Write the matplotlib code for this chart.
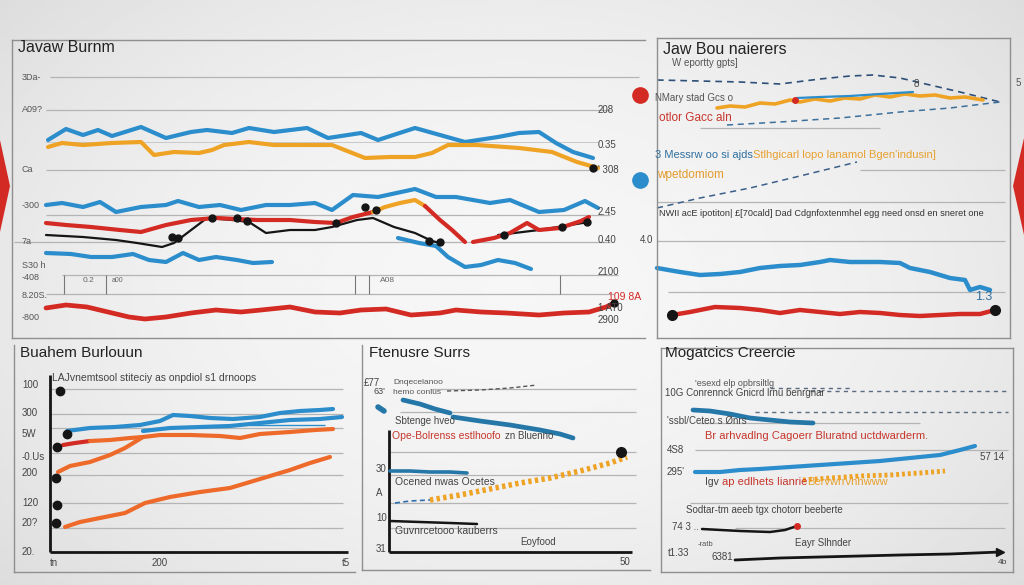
import numpy as np
import matplotlib.pyplot as plt
from matplotlib.patches import Polygon

plt.rcParams['font.family'] = ['Liberation Sans', 'DejaVu Sans']

W, H = 1024, 585
BLUE = '#2b8dcb'
ORANGE = '#efa325'
RORANGE = '#ee6a2a'
RED = '#d42a24'
BLACK = '#151515'
GRID = '#b4b4b4'
EDGE = '#8f8f8f'
TXT = '#3c3c3c'

# ---------------- panel 1 : "Javaw Burnm" ----------------
p1_blue_top_x = [48, 66, 83, 98, 112, 141, 166, 191, 207, 232, 249, 274, 307, 328, 361, 378, 415, 440, 465, 498, 519, 539, 556, 573, 593]
p1_blue_top = [198, 209, 203, 208, 202, 211, 200, 206, 208, 205, 210, 206, 210, 200, 205, 198, 210, 203, 196, 201, 205, 206, 195, 186, 180]
p1_orange_x = [48, 62, 83, 112, 141, 154, 174, 199, 212, 224, 249, 274, 307, 332, 365, 390, 415, 432, 448, 477, 519, 552, 577, 598]
p1_orange = [191, 195, 193, 195, 196, 183, 186, 185, 188, 193, 196, 193, 193, 193, 180, 181, 181, 185, 193, 193, 190, 186, 176, 170]
p1_blue_mid_x = [46, 62, 83, 100, 116, 141, 166, 178, 199, 220, 241, 266, 290, 315, 332, 353, 378, 415, 436, 456, 490, 510, 539, 564, 585, 598]
p1_blue_mid = [133, 135, 131, 136, 126, 131, 133, 137, 131, 133, 128, 133, 133, 135, 128, 143, 141, 149, 141, 141, 135, 138, 126, 128, 137, 130]
p1_red_a_x = [46, 66, 91, 120, 141, 166, 191, 216, 237, 257, 290, 315, 336, 353, 373]
p1_red_a = [115, 113, 111, 108, 106, 113, 118, 120, 119, 118, 118, 116, 115, 121, 126]
p1_hump_x = [373, 385, 400, 415, 425]
p1_hump = [126, 131, 135, 138, 132]
p1_red_b_x = [425, 440, 452, 465]
p1_red_b = [132, 118, 108, 96]
p1_red_c_x = [473, 494, 510, 527, 539, 560, 581, 589]
p1_red_c = [96, 100, 105, 115, 108, 110, 117, 121]
p1_black_x = [46, 83, 116, 137, 162, 174, 207, 232, 249, 266, 290, 315, 332, 357, 373, 394, 415, 432, 440]
p1_black = [103, 101, 98, 95, 91, 95, 120, 118, 116, 105, 108, 108, 111, 118, 120, 111, 105, 97, 95]
p1_black2_x = [498, 539, 589]
p1_black2 = [103, 108, 116]
p1_dots_x = [212, 237, 247, 336, 365, 376, 429, 440, 172, 178, 504, 562, 587]
p1_dots = [120, 120, 117, 115, 131, 128, 97, 96, 101, 100, 103, 111, 116]
p1_blue_low_a_x = [46, 71, 91, 112, 133, 149, 166, 183, 199, 216, 237, 253, 272]
p1_blue_low_a = [85, 84, 81, 81, 84, 78, 76, 85, 78, 81, 78, 75, 76]
p1_blue_low_b_x = [398, 419, 436, 448, 465, 481, 498, 515, 531]
p1_blue_low_b = [100, 95, 92, 81, 71, 73, 78, 75, 69]
p1_red_low_x = [46, 66, 87, 108, 129, 145, 166, 191, 216, 241, 261, 290, 315, 340, 361, 386, 411, 440, 456, 481, 506, 539, 564, 589, 606, 614]
p1_red_low = [30, 33, 31, 26, 21, 19, 21, 25, 28, 26, 28, 31, 26, 25, 28, 29, 23, 25, 28, 26, 25, 23, 25, 26, 31, 35]
p1_grid = [261, 228, 168, 123, 96, 63, 44]
p1_grid_from = [50, 46, 46, 46, 14, 62, 46]
p1_grid_to = [639, 610, 598, 610, 610, 618, 614]
p1_left_labels = ['3Da-', 'A09?', 'Ca', '-300', '7a', 'S30 h', '-408', '8.20S.', '-800']
p1_left_vals = [261, 228, 168, 133, 96, 72, 61, 43, 20]
p1_right_labels = ['208', '0.35', "' 308", '2.45', '0.40', '2100', '1 AT0', '2900']
p1_right_vals = [228, 193, 168, 126, 98, 66, 30, 18]

# ---------------- panel 2 : "Jaw Bou naierers" ----------------
p2_dash_top_x = [657, 700, 740, 780, 820, 850, 873, 900, 930, 960, 1000]
p2_dash_top = [258, 257, 256, 254, 259, 262, 263, 260, 253, 246, 236]
p2_orange_x = [717, 730, 745, 760, 775, 790, 800, 815, 830, 845, 860, 875, 890, 905, 920, 935, 950, 965, 983]
p2_orange = [230, 232, 231, 235, 234, 238, 236, 239, 237, 240, 239, 243, 241, 244, 242, 243, 240, 241, 238]
p2_blue_short_x = [797, 820, 850, 880, 913]
p2_blue_short = [240, 241, 242, 244, 246]
p2_dash2_x = [727, 780, 840, 900, 950, 1000]
p2_dash2 = [213, 216, 220, 226, 230, 236]
p2_dash3_x = [657, 700, 750, 800, 857]
p2_dash3 = [130, 140, 150, 162, 176]
p2_blue_x = [657, 680, 700, 720, 740, 760, 780, 800, 820, 830, 850, 880, 900, 910, 930, 950, 965, 970, 980, 990]
p2_blue = [70, 66, 63, 64, 66, 70, 72, 73, 76, 78, 76, 76, 75, 70, 66, 60, 58, 48, 51, 48]
p2_red_x = [672, 690, 715, 740, 760, 780, 800, 820, 840, 860, 880, 900, 920, 940, 960, 980, 995]
p2_red = [23, 26, 31, 30, 28, 25, 28, 26, 24, 26, 25, 23, 22, 23, 24, 24, 28]
p2_grid = [168, 136, 97, 46, 210]
p2_grid_from = [860, 657, 657, 668, 700]
p2_grid_to = [1005, 1005, 1005, 1005, 880]

# ---------------- panel 3 : "Buahem Burlouun" ----------------
p3_blue1_x = [67, 90, 115, 140, 160, 173, 190, 210, 233, 260, 280, 300, 320, 333]
p3_blue1 = [144, 147, 148, 150, 154, 160, 159, 157, 156, 158, 162, 164, 165, 166]
p3_blue2_x = [143, 170, 200, 230, 260, 290, 320, 342]
p3_blue2 = [144, 147, 148, 149, 152, 155, 156, 158]
p3_red_x = [63, 75, 90]
p3_red = [130, 132, 134]
p3_orange_join_x = [90, 110, 130, 143]
p3_orange_join = [134, 135, 137, 138]
p3_orange1_x = [58, 70, 90, 110, 125, 143, 160, 190, 220, 240, 260, 290, 315, 333]
p3_orange1 = [103, 109, 113, 120, 127, 138, 140, 140, 139, 137, 141, 143, 145, 146]
p3_orange2_x = [65, 80, 100, 125, 145, 170, 200, 230, 250, 270, 290, 310, 330]
p3_orange2 = [48, 53, 57, 62, 72, 78, 83, 87, 93, 99, 105, 112, 118]
p3_dots_x = [60, 67, 57, 56, 57, 56]
p3_dots = [184, 141, 128, 97, 70, 52]
p3_grid = [186, 161, 147, 122, 100, 72, 47]
p3_ylabels = ['100', '300', '5W', '-0.Us', '200', '120', '20?', '20.']
p3_yvals = [190, 162, 141, 118, 102, 72, 52, 23]
p3_xlabels = ['tn', '200', 't5']
p3_xvals = [50, 152, 342]

# ---------------- panel 4 : "Ftenusre Surrs" ----------------
p4_blue_a_x = [403, 420, 435, 450]
p4_blue_a = [175, 171, 166, 162]
p4_blue_b_x = [453, 480, 510, 540, 560, 573]
p4_blue_b = [158, 154, 150, 145, 141, 137]
p4_blue_tiny_x = [378, 384]
p4_blue_tiny = [168, 164]
p4_blue_flat_x = [390, 410, 430, 450, 467]
p4_blue_flat = [104, 104, 103, 103, 102]
p4_orange_x = [430, 460, 490, 520, 550, 580, 610, 627]
p4_orange = [75, 80, 86, 92, 97, 104, 112, 118]
p4_blue_dash_x = [395, 410, 430]
p4_blue_dash = [72, 74, 75]
p4_black_x = [390, 420, 450, 477]
p4_black = [54, 53, 52, 51]
p4_dash_top_x = [447, 480, 510, 537]
p4_dash_top = [184, 185, 187, 190]
p4_grid = [186, 163, 123, 100, 72, 47]
p4_grid_from = [430, 400, 390, 390, 390, 390]

# ---------------- panel 5 : "Mogatcics Creercie" ----------------
p5_blue_top_x = [693, 710, 730, 750, 770, 790, 813]
p5_blue_top = [165, 164, 161, 157, 155, 153, 152]
p5_blue_rise_x = [695, 720, 740, 760, 790, 820, 850, 880, 910, 940, 960, 975]
p5_blue_rise = [103, 103, 105, 106, 108, 110, 112, 114, 117, 120, 125, 129]
p5_orange_x = [803, 830, 860, 890, 920, 945]
p5_orange = [95, 97, 99, 100, 102, 104]
p5_black1_x = [702, 740, 770, 785, 797]
p5_black1 = [46, 44, 43, 45, 49]
p5_black2_x = [735, 780, 820, 860, 900, 950, 1000]
p5_black2 = [15, 17, 18, 19, 20, 21, 23]
p5_dash_lines = [184, 163, 187]
p5_dash_from = [810, 755, 770]
p5_dash_to = [1010, 1008, 850]
p5_grid = [152, 125, 72, 47]
p5_grid_from = [700, 695, 690, 735]
p5_grid_to = [920, 1008, 1008, 1005]

fig = plt.figure(figsize=(W / 100, H / 100), dpi=100)

# soft grey vignette background
bg = fig.add_axes([0, 0, 1, 1])
yy, xx = np.mgrid[0:1:200j, 0:1:300j]
r = np.hypot((xx - 0.5) / 0.7, (yy - 0.5) / 0.8)
bg.imshow(0.965 - 0.11 * r ** 2, cmap='gray', vmin=0, vmax=1,
          extent=(0, 1, 0, 1), aspect='auto')
bg.set_xlim(0, 1)
bg.set_ylim(0, 1)
bg.axis('off')
bg.add_patch(Polygon([(0, 1 - 140 / H), (10 / W, 1 - 186 / H), (0, 1 - 232 / H)],
                     color=RED, lw=0))
bg.add_patch(Polygon([(1, 1 - 138 / H), (1013 / W, 1 - 186 / H), (1, 1 - 235 / H)],
                     color=RED, lw=0))


def panel(x0, y0, x1, y1, yb, spines):
    ax = fig.add_axes([x0 / W, 1 - y1 / H, (x1 - x0) / W, (y1 - y0) / H])
    ax.set_xlim(x0, x1)
    ax.set_ylim(yb - y1, yb - y0)
    ax.patch.set_visible(False)
    ax.set_xticks([])
    ax.set_yticks([])
    for name, sp in ax.spines.items():
        sp.set_visible(name[0] in spines)
        sp.set_color(EDGE)
        sp.set_linewidth(1)
    return ax


def line(ax, x, y, color, lw=3.0, **kw):
    ax.plot(x, y, color=color, lw=lw, solid_capstyle='round',
            solid_joinstyle='round', clip_on=False, **kw)


def txt(ax, x, y, s, size=7, color=TXT, **kw):
    ax.text(x, y, s, fontsize=size, color=color, va='center', ha='left',
            clip_on=False, **kw)


# ---- panel 1
ax1 = panel(12, 40, 645, 338, 338, 'tlb')
ax1.hlines(p1_grid, p1_grid_from, p1_grid_to, color=GRID, lw=0.9)
ax1.hlines([196], [46], [598], color='#c8c8c8', lw=0.7)
ax1.vlines([64, 106, 355, 369, 560], 44, 63, color='#777777', lw=0.8)
line(ax1, p1_black_x, p1_black, BLACK, lw=1.6)
line(ax1, p1_black2_x, p1_black2, BLACK, lw=1.6)
line(ax1, p1_blue_top_x, p1_blue_top, BLUE)
line(ax1, p1_orange_x, p1_orange, ORANGE)
line(ax1, p1_blue_mid_x, p1_blue_mid, BLUE)
line(ax1, p1_red_a_x, p1_red_a, RED)
line(ax1, p1_hump_x, p1_hump, ORANGE)
line(ax1, p1_red_b_x, p1_red_b, RED)
line(ax1, p1_red_c_x, p1_red_c, RED)
line(ax1, p1_blue_low_a_x, p1_blue_low_a, BLUE)
line(ax1, p1_blue_low_b_x, p1_blue_low_b, BLUE)
line(ax1, p1_red_low_x, p1_red_low, RED, lw=3.4)
ax1.plot(p1_dots_x, p1_dots, 'o', color=BLACK, ms=5, clip_on=False)
ax1.plot([593, 614], [170, 35], 'o', color=BLACK, ms=5, clip_on=False)
ax1.plot([640], [243], 'o', color=RED, ms=11, clip_on=False)
ax1.plot([640], [158], 'o', color=BLUE, ms=11, clip_on=False)
txt(ax1, 18, 290, 'Javaw Burnm', size=11.5, color='#222222')
for s, v in zip(p1_left_labels, p1_left_vals):
    txt(ax1, 22, v, s, size=6.5, color='#555555')
for s, v in zip(p1_right_labels, p1_right_vals):
    txt(ax1, 598, v, s, size=7, color='#444444')
txt(ax1, 608, 41, '109 8A', size=7.5, color=RED)
txt(ax1, 640, 98, '4.0', size=7, color='#444444')
txt(ax1, 83, 57, '0.2', size=6, color='#666666')
txt(ax1, 112, 57, 'a00', size=5, color='#666666')
txt(ax1, 380, 57, 'A08', size=6, color='#666666')

# ---- panel 2
ax2 = panel(657, 38, 1010, 338, 338, 'tlbr')
ax2.hlines(p2_grid, p2_grid_from, p2_grid_to, color=GRID, lw=0.9)
line(ax2, p2_dash_top_x, p2_dash_top, '#2d4f78', lw=1.2, ls=(0, (4, 3)))
line(ax2, p2_dash2_x, p2_dash2, '#3b6f9c', lw=1.1, ls=(0, (4, 3)))
line(ax2, p2_dash3_x, p2_dash3, '#3b5f88', lw=1.1, ls=(0, (4, 3)))
line(ax2, p2_orange_x, p2_orange, ORANGE, lw=2.6)
line(ax2, p2_blue_short_x, p2_blue_short, BLUE, lw=1.6)
ax2.plot([795], [238], 'o', color=RED, ms=4, clip_on=False)
line(ax2, p2_blue_x, p2_blue, BLUE, lw=3.2)
line(ax2, p2_red_x, p2_red, RED, lw=3.2)
ax2.plot([p2_red_x[0], p2_red_x[-1]], [p2_red[0], p2_red[-1]], 'o',
         color=BLACK, ms=7, clip_on=False)
txt(ax2, 663, 288, 'Jaw Bou naierers', size=11.5, color='#222222')
txt(ax2, 672, 275, 'W eportty gpts]', size=7, color='#555555')
txt(ax2, 655, 240, 'NMary stad Gcs o', size=7, color='#555555')
txt(ax2, 659, 220, 'otlor Gacc aln', size=8.5, color='#c7352b')
txt(ax2, 655, 183, '3 Messrw oo si ajds', size=8, color='#2f6f9f')
txt(ax2, 753, 183, "Stlhgicarl lopo lanamol Bgen'indusin]", size=8, color='#e8a02e')
txt(ax2, 657, 163, 'wpetdomiom', size=8.5, color='#e39a2a')
txt(ax2, 659, 125, 'NWII acE ipotiton| £[70cald] Dad Cdgnfoxtenmhel egg need onsd en sneret one',
    size=6.6, color='#333333')
txt(ax2, 914, 254, '8', size=7, color='#444444')
txt(ax2, 975, 41, '1.3', size=9, color='#2f6f9f')
txt(ax2, 1016, 255, '5', size=7, color='#555555')

# ---- panel 3
ax3 = panel(14, 345, 355, 572, 575, 'lb')
ax3.hlines(p3_grid, 50, 343, color=GRID, lw=0.9)
ax3.vlines([50], 23, 200, color=BLACK, lw=2)
ax3.hlines([23], 50, 348, color=BLACK, lw=2)
line(ax3, p3_blue1_x, p3_blue1, BLUE)
line(ax3, p3_blue2_x, p3_blue2, BLUE)
ax3.hlines([150], 250, 325, color=BLUE, lw=1)
line(ax3, p3_red_x, p3_red, RED)
line(ax3, p3_orange_join_x, p3_orange_join, RORANGE)
line(ax3, p3_orange1_x, p3_orange1, RORANGE)
line(ax3, p3_orange2_x, p3_orange2, RORANGE)
ax3.plot(p3_dots_x, p3_dots, 'o', color=BLACK, ms=6, clip_on=False)
txt(ax3, 20, 222, 'Buahem Burlouun', size=11, color='#222222')
txt(ax3, 52, 197, 'LAJvnemtsool stiteciy as onpdiol s1 drnoops', size=7.5, color='#444444')
for s, v in zip(p3_ylabels, p3_yvals):
    txt(ax3, 22, v, s, size=7, color='#444444')
for s, v in zip(p3_xlabels, p3_xvals):
    txt(ax3, v, 12, s, size=7, color='#444444')

# ---- panel 4
ax4 = panel(362, 345, 650, 570, 575, 'lb')
ax4.hlines(p4_grid, p4_grid_from, 636, color=GRID, lw=0.9)
ax4.vlines([389], 23, 145, color=BLACK, lw=2)
ax4.hlines([23], 389, 632, color=BLACK, lw=2)
line(ax4, p4_dash_top_x, p4_dash_top, '#555555', lw=1, ls=(0, (3, 2)))
line(ax4, p4_blue_a_x, p4_blue_a, '#2577a8', lw=3.4)
line(ax4, p4_blue_b_x, p4_blue_b, '#2577a8', lw=3.4)
line(ax4, p4_blue_tiny_x, p4_blue_tiny, '#2577a8', lw=4)
line(ax4, p4_blue_flat_x, p4_blue_flat, '#2577a8', lw=2.6)
line(ax4, p4_orange_x, p4_orange, ORANGE, lw=4, ls=(0, (0.6, 0.6)))
line(ax4, p4_blue_dash_x, p4_blue_dash, '#2f6fb0', lw=1.2, ls=(0, (3, 2)))
line(ax4, p4_black_x, p4_black, BLACK, lw=1.8)
ax4.plot([621], [123], 'o', color=BLACK, ms=7, clip_on=False)
txt(ax4, 369, 222, 'Ftenusre Surrs', size=11, color='#222222')
txt(ax4, 364, 192, '£77', size=7, color='#444444')
txt(ax4, 374, 183, "63'", size=6.5, color='#444444')
txt(ax4, 393, 192, 'Dnqecelanoo', size=6, color='#555555')
txt(ax4, 393, 183, 'hemo conlus', size=6, color='#555555')
txt(ax4, 395, 154, 'Sbtenge hveo', size=7, color='#444444')
txt(ax4, 392, 139, 'Ope-Bolrenss estlhoofo', size=7.5, color='#c7352b')
txt(ax4, 505, 139, 'zn Bluenno', size=7, color='#444444')
txt(ax4, 395, 93, 'Ocened nwas Ocetes', size=7.5, color='#444444')
txt(ax4, 395, 44, 'Guvnrcetooo kauberrs', size=7.5, color='#444444')
txt(ax4, 520, 33, 'Eoyfood', size=7, color='#444444')
txt(ax4, 620, 13, '50', size=7, color='#444444')
for s, v in zip(['30', 'A', '10', '31'], [106, 82, 57, 26]):
    txt(ax4, 376, v, s, size=7, color='#444444')

# ---- panel 5
ax5 = panel(661, 348, 1013, 572, 575, 'tlbr')
ax5.hlines(p5_dash_lines, p5_dash_from, p5_dash_to, color='#5a6a80', lw=1, ls=(0, (3, 3)))
ax5.hlines(p5_grid, p5_grid_from, p5_grid_to, color=GRID, lw=0.9)
line(ax5, p5_blue_top_x, p5_blue_top, '#2577a8', lw=3.4)
line(ax5, p5_blue_rise_x, p5_blue_rise, BLUE, lw=3)
line(ax5, p5_orange_x, p5_orange, ORANGE, lw=3.5, ls=(0, (0.6, 0.6)))
line(ax5, p5_black1_x, p5_black1, BLACK, lw=1.8)
ax5.plot([797], [49], 'o', color=RED, ms=4, clip_on=False)
line(ax5, p5_black2_x, p5_black2, BLACK, lw=2)
ax5.plot([1000], [23], '>', color=BLACK, ms=6, clip_on=False)
txt(ax5, 665, 222, 'Mogatcics Creercie', size=11, color='#222222')
txt(ax5, 695, 191, "'esexd elp opbrsiltlg", size=6.5, color='#555555')
txt(ax5, 665, 182, '10G Conrennck Gnicrd lrnu benrgnar', size=7, color='#444444')
txt(ax5, 667, 154, "'ssbl/Ceteo s Ønrs", size=7, color='#444444')
txt(ax5, 705, 139, 'Br arhvadlng Cagoerr Bluratnd uctdwarderm.', size=8, color='#c7352b')
txt(ax5, 667, 125, '4S8', size=7, color='#444444')
txt(ax5, 667, 103, "295'", size=7, color='#444444')
txt(ax5, 980, 118, '57 14', size=7, color='#444444')
txt(ax5, 705, 93, 'Igv', size=7.5, color='#444444')
txt(ax5, 722, 93, 'ap edlhets Iianrie', size=8, color='#c7352b')
txt(ax5, 807, 93, 'Bervwrrvhhwww', size=8, color='#e8a02e')
txt(ax5, 686, 65, 'Sodtar-tm aeeb tgx chotorr beeberte', size=7, color='#444444')
txt(ax5, 672, 48, '74 3 ..', size=7, color='#444444')
txt(ax5, 795, 32, 'Eayr Slhnder', size=7, color='#444444')
txt(ax5, 698, 30, '-ratb', size=5.5, color='#555555')
txt(ax5, 668, 22, 't1.33', size=7, color='#444444')
txt(ax5, 712, 18, '6381', size=7, color='#444444')
txt(ax5, 998, 12, '4b', size=6, color='#444444')

fig.savefig('out.png', dpi=100)
